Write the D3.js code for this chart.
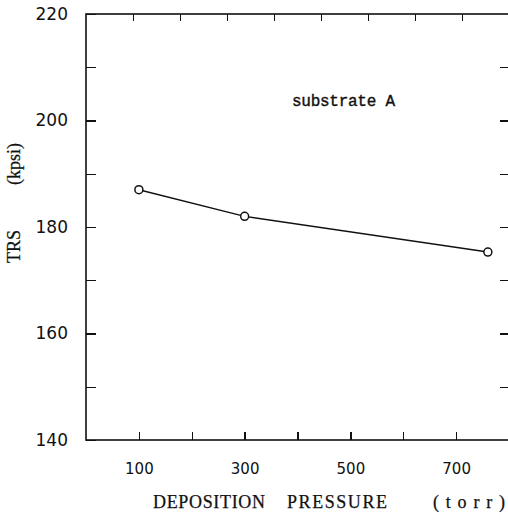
<!DOCTYPE html>
<html>
  <head>
    <style>
      body { margin: 0; background: #fff; }
      .axis text { font: 17px "DejaVu Sans", sans-serif; fill: #111; }
      .x.axis text { font-size: 15px; }
      .axis line { stroke: #111; stroke-width: 1.3; shape-rendering: crispEdges; }
      .axis path { display: none; }
      .frame { fill: none; stroke: #111; stroke-width: 1.6; }
      .title { font-family: "Liberation Serif", serif; font-size: 18px; fill: #111; stroke: #111; stroke-width: 0.25; }
      .note { font-family: "Liberation Mono", monospace; font-size: 16px; fill: #111; stroke: #111; stroke-width: 0.4; }
    </style>
  </head>
  <body>
    <div id="chart"></div>
    <script src="https://d3js.org/d3.v7.min.js"></script>
    <script>
      // data
      const pressure = [100, 300, 760];
      const trs = [187, 182, 175.3];
      const xTickValues = [100, 200, 300, 400, 500, 600, 700];
      const xTickLabels = [100, 300, 500, 700];
      const yTickValues = [140, 150, 160, 170, 180, 190, 200, 210, 220];
      const yTickLabels = [140, 160, 180, 200, 220];

      const margin = { top: 14, right: -1, bottom: 82, left: 86 };
      const W = 508, H = 522;
      const width = W - margin.left - margin.right;
      const height = H - margin.top - margin.bottom;

      const svg = d3.select("#chart").append("svg")
        .attr("width", W).attr("height", H)
        .append("g")
        .attr("transform", "translate(" + margin.left + "," + margin.top + ")");

      const x = d3.scaleLinear().domain([0, 800]).range([0, width]);
      const y = d3.scaleLinear().domain([140, 220]).range([height, 0]);

      // left axis, inward ticks
      svg.append("g").attr("class", "y axis")
        .call(d3.axisLeft(y).tickValues(yTickValues).tickSize(-10).tickPadding(18)
          .tickFormat(d => yTickLabels.includes(d) ? d : ""));

      // right ticks
      svg.append("g").attr("class", "y axis")
        .attr("transform", "translate(" + width + ",0)")
        .call(d3.axisRight(y).tickValues(yTickValues.slice(1, -1)).tickSize(-9).tickFormat(""));

      // bottom axis
      svg.append("g").attr("class", "x axis")
        .attr("transform", "translate(0," + height + ")")
        .call(d3.axisBottom(x).tickValues(xTickValues).tickSize(-8).tickPadding(23)
          .tickFormat(d => xTickLabels.includes(d) ? d : ""));

      // top ticks (the original frame divides the top edge in ninths)
      svg.append("g").attr("class", "x axis")
        .call(d3.axisTop(x).tickValues(d3.range(1, 9).map(i => i * 800 / 9)).tickSize(-7).tickFormat(""));

      svg.append("rect").attr("class", "frame")
        .attr("x", 0).attr("y", 0).attr("width", width).attr("height", height);

      const pts = pressure.map((p, i) => [p, trs[i]]);
      svg.append("path")
        .datum(pts)
        .attr("fill", "none").attr("stroke", "#111").attr("stroke-width", 1.4)
        .attr("d", d3.line().x(d => x(d[0])).y(d => y(d[1])));

      svg.selectAll(".pt").data(pts).enter().append("circle")
        .attr("class", "pt")
        .attr("cx", d => x(d[0])).attr("cy", d => y(d[1])).attr("r", 4)
        .attr("fill", "#fff").attr("stroke", "#111").attr("stroke-width", 1.5);

      svg.append("text").attr("class", "note")
        .attr("x", 292 - margin.left).attr("y", 106 - margin.top)
        .attr("textLength", 103).attr("lengthAdjust", "spacing")
        .text("substrate A");

      // x title
      const titleY = 508 - margin.top;
      [["DEPOSITION", 153, 112], ["PRESSURE", 287, 100], ["(torr)", 433, 72]].forEach(t => {
        svg.append("text").attr("class", "title")
          .attr("x", t[1] - margin.left).attr("y", titleY)
          .attr("textLength", t[2]).attr("lengthAdjust", "spacing")
          .text(t[0]);
      });

      // y title
      [["TRS", 263], ["(kpsi)", 185]].forEach(t => {
        svg.append("text").attr("class", "title")
          .attr("transform", "translate(" + (20 - margin.left) + "," + (t[1] - margin.top) + ") rotate(-90)")
          .text(t[0]);
      });
    </script>
  </body>
</html>
